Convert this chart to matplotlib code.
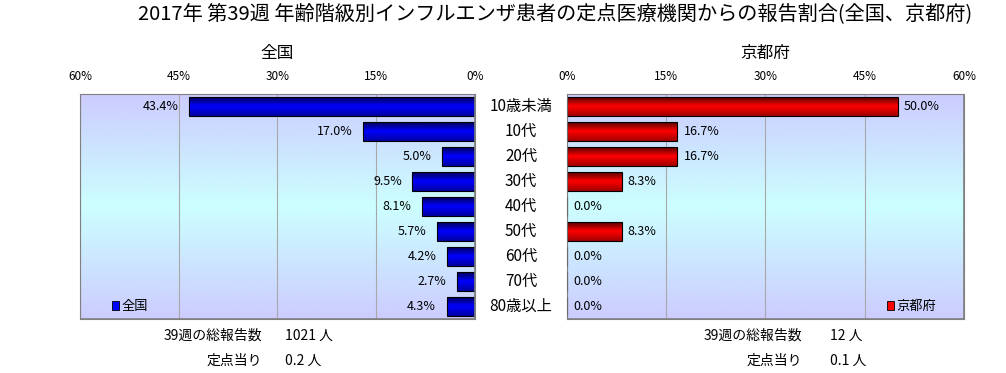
import numpy as np
import matplotlib
matplotlib.use('Agg')
import matplotlib.pyplot as plt
from matplotlib.colors import LinearSegmentedColormap
from matplotlib.patches import Rectangle

plt.rcParams['font.family'] = ['Noto Sans CJK JP', 'DejaVu Sans']

# data
categories = ['10歳未満', '10代', '20代', '30代', '40代', '50代', '60代', '70代', '80歳以上']
zenkoku = [43.4, 17.0, 5.0, 9.5, 8.1, 5.7, 4.2, 2.7, 4.3]
kyoto = [50.0, 16.7, 16.7, 8.3, 0.0, 8.3, 0.0, 0.0, 0.0]
ticks = [0, 15, 30, 45, 60]
zenkoku_total = '1021 人'
zenkoku_per = '0.2 人'
kyoto_total = '12 人'
kyoto_per = '0.1 人'

fig = plt.figure(figsize=(10.06, 3.73), dpi=100)
fig.patch.set_facecolor('white')

bg = LinearSegmentedColormap.from_list('bg', ['#ccccff', '#ccffff', '#ccccff'])
blue = LinearSegmentedColormap.from_list('b', ['#000040', '#0000ff', '#0000a0'])
red = LinearSegmentedColormap.from_list('r', ['#400000', '#ff0000', '#a00000'])
grad = np.linspace(0, 1, 256).reshape(-1, 1)


def panel(ax, vals, cmap, left, name, legcolor):
    ax.imshow(grad, extent=[0, 1, 0, 1], transform=ax.transAxes, aspect='auto',
              cmap=bg, zorder=0)
    y = np.arange(len(vals))
    bars = ax.barh(y, vals, height=0.78, facecolor='none', edgecolor='black',
                   linewidth=0.8, zorder=3)
    for b in bars:
        if b.get_width() <= 0:
            continue
        x0, x1 = b.get_x(), b.get_x() + b.get_width()
        y0, y1 = b.get_y(), b.get_y() + b.get_height()
        im = ax.imshow(grad, extent=[x0, x1, y1, y0], aspect='auto', cmap=cmap,
                       zorder=2, interpolation='bilinear')
        im.set_clip_path(b)
    for yi, v in zip(y, vals):
        if left:
            ax.text(v + 1.6, yi, f'{v:.1f}%', ha='right', va='center', fontsize=9,
                    zorder=4)
        else:
            ax.text(v + 0.9, yi, f'{v:.1f}%', ha='left', va='center', fontsize=9,
                    zorder=4)
    ax.set_ylim(len(vals) - 0.5, -0.5)
    if left:
        ax.set_xlim(60, 0)
    else:
        ax.set_xlim(0, 60)
    ax.set_xticks(ticks)
    ax.set_xticklabels([f'{t}%' for t in ticks], fontsize=8.5)
    ax.xaxis.tick_top()
    ax.tick_params(axis='x', length=0, pad=8)
    ax.set_yticks([])
    ax.grid(axis='x', color='#a8a8a8', linewidth=0.8, zorder=1)
    ax.set_axisbelow(True)
    for s in ax.spines.values():
        s.set_color('#808080')
    ax.set_title(name, fontsize=12, pad=26)
    ax.add_patch(Rectangle((0, 0), 1, 1, transform=ax.transAxes, fill=False,
                           edgecolor='#808080', lw=1.2, zorder=5))
    h = Rectangle((0, 0), 1, 1, facecolor=legcolor, edgecolor='black', lw=0.6)
    if left:
        leg = ax.legend([h], [name], loc='center left', bbox_to_anchor=(0.08, 0.055),
                        frameon=False, fontsize=9.5, handlelength=0.6, handleheight=0.6,
                        handletextpad=0.15, borderaxespad=0, borderpad=0)
    else:
        leg = ax.legend([h], [name], loc='center right', bbox_to_anchor=(0.93, 0.055),
                        frameon=False, fontsize=9.5, handlelength=0.6, handleheight=0.6,
                        handletextpad=0.15, borderaxespad=0, borderpad=0)
    leg.set_zorder(6)


axL = fig.add_axes([0.0795, 0.145, 0.3926, 0.603])
axR = fig.add_axes([0.5636, 0.145, 0.3946, 0.603])
panel(axL, zenkoku, blue, True, '全国', '#0000ff')
panel(axR, kyoto, red, False, '京都府', '#ff0000')

# category labels between panels
for i, c in enumerate(categories):
    yy = axL.transData.transform((0, i))[1]
    fig.text(521 / 1006, yy / fig.dpi / 3.73, c, ha='center', va='center', fontsize=11)

fig.suptitle('2017年 第39週 年齢階級別インフルエンザ患者の定点医療機関からの報告割合(全国、京都府)',
             x=0.552, y=0.99, fontsize=14.5, va='top')

# footer
fs = 10
fig.text(262 / 1006, 1 - 336 / 373, '39週の総報告数', ha='right', va='center', fontsize=fs)
fig.text(285 / 1006, 1 - 336 / 373, zenkoku_total, ha='left', va='center', fontsize=fs)
fig.text(262 / 1006, 1 - 361 / 373, '定点当り', ha='right', va='center', fontsize=fs)
fig.text(285 / 1006, 1 - 361 / 373, zenkoku_per, ha='left', va='center', fontsize=fs)
fig.text(802 / 1006, 1 - 336 / 373, '39週の総報告数', ha='right', va='center', fontsize=fs)
fig.text(830 / 1006, 1 - 336 / 373, kyoto_total, ha='left', va='center', fontsize=fs)
fig.text(802 / 1006, 1 - 361 / 373, '定点当り', ha='right', va='center', fontsize=fs)
fig.text(830 / 1006, 1 - 361 / 373, kyoto_per, ha='left', va='center', fontsize=fs)

fig.savefig('out.png', dpi=100)
